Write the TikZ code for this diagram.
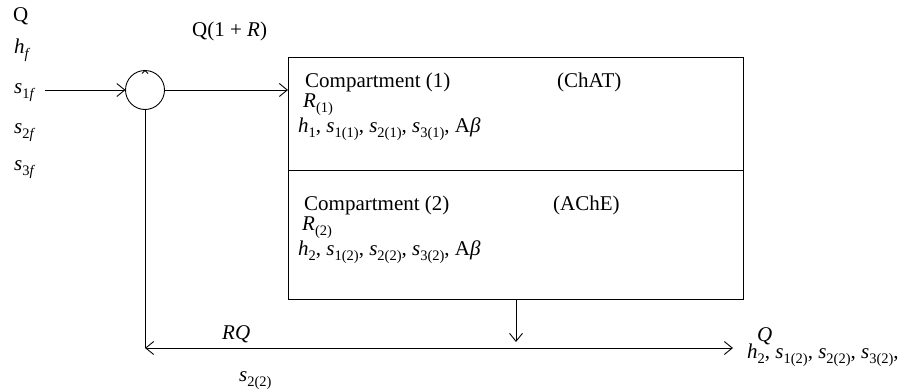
\documentclass[tikz,border=0pt]{standalone}
\usepackage{fontspec}
\setmainfont{Liberation Serif}
\usetikzlibrary{arrows.meta}
\newcommand\sbs[1]{\raisebox{-0.26em}{\fontsize{14.5}{14.5}\selectfont #1}}
\newcommand\vs[2]{\textit{#1}\sbs{#2}}
\begin{document}
\begin{tikzpicture}[x=1pt,y=-1pt,
  ln/.style={line width=0.9pt},
  arr/.style={ln,-{Straight Barb[length=8pt,width=13pt,line width=0.9pt]}},
  dbl/.style={ln,{Straight Barb[length=8pt,width=13pt,line width=0.9pt]}-{Straight Barb[length=8pt,width=13pt,line width=0.9pt]}},
  box/.style={draw,ln,rectangle,inner sep=0pt,outer sep=0pt},
  lbl/.style={anchor=base west,inner sep=0pt,font=\fontsize{21}{25}\selectfont}]
\useasboundingbox (0,0) rectangle (917,391);
% main boxes
\node[box,minimum width=455pt,minimum height=113pt] (c1) at (515.5,113.5) {};
\node[box,minimum width=455pt,minimum height=129pt] (c2) at (515.5,234.5) {};
% mixer
\node[draw,ln,circle,minimum size=39pt,inner sep=0pt,outer sep=0pt] (mix) at (145,90) {};
\draw[ln] ([shift={(-3,3)}]mix.north) -- (mix.north) -- ([shift={(3,3)}]mix.north);
% connectors
\coordinate (in) at (45,90);
\coordinate (bl) at (145,348);
\coordinate (br) at (733,348);
\coordinate (dn) at (516,342);
\draw[arr] (in) -- (mix.west);
\draw[arr] (mix.east) -- (mix.east -| c1.west);
\draw[ln] (mix.south) -- (bl);
\draw[dbl] (bl) -- (br);
\draw[arr] (c2.south -| dn) -- (dn);
% left labels
\node[lbl] (q0) at (13,21) {Q};
\node[lbl] (hf) at (14,53) {\vs{h}{\textit{f}}};
\node[lbl] (s1) at (14,93) {\vs{s}{1\textit{f}}};
\node[lbl] (s2) at (14,133) {\vs{s}{2\textit{f}}};
\node[lbl] (s3) at (14,170) {\vs{s}{3\textit{f}}};
\node[lbl] (q1r) at (192,36) {Q(1 + \textit{R})};
% compartment 1
\node[lbl] (t1) at (305,87) {Compartment (1)};
\node[lbl] (e1) at (557,87) {(ChAT)};
\node[lbl] (r1) at (303,107) {\vs{R}{(1)}};
\node[lbl] (v1) at (298,132) {\vs{h}{1}, \vs{s}{1(1)}, \vs{s}{2(1)}, \vs{s}{3(1)}, A\textit{β}};
% compartment 2
\node[lbl] (t2) at (304,210) {Compartment (2)};
\node[lbl] (e2) at (553,210) {(AChE)};
\node[lbl] (r2) at (302,230) {\vs{R}{(2)}};
\node[lbl] (v2) at (298,255) {\vs{h}{2}, \vs{s}{1(2)}, \vs{s}{2(2)}, \vs{s}{3(2)}, A\textit{β}};
% bottom labels
\node[lbl] (rq) at (222,339) {\textit{RQ}};
\node[lbl] (s22) at (239,381) {\vs{s}{2(2)}};
\node[lbl] (qo) at (757,341) {\textit{Q}};
\node[lbl] (vo) at (747,358) {\vs{h}{2}, \vs{s}{1(2)}, \vs{s}{2(2)}, \vs{s}{3(2)},};
\end{tikzpicture}
\end{document}
